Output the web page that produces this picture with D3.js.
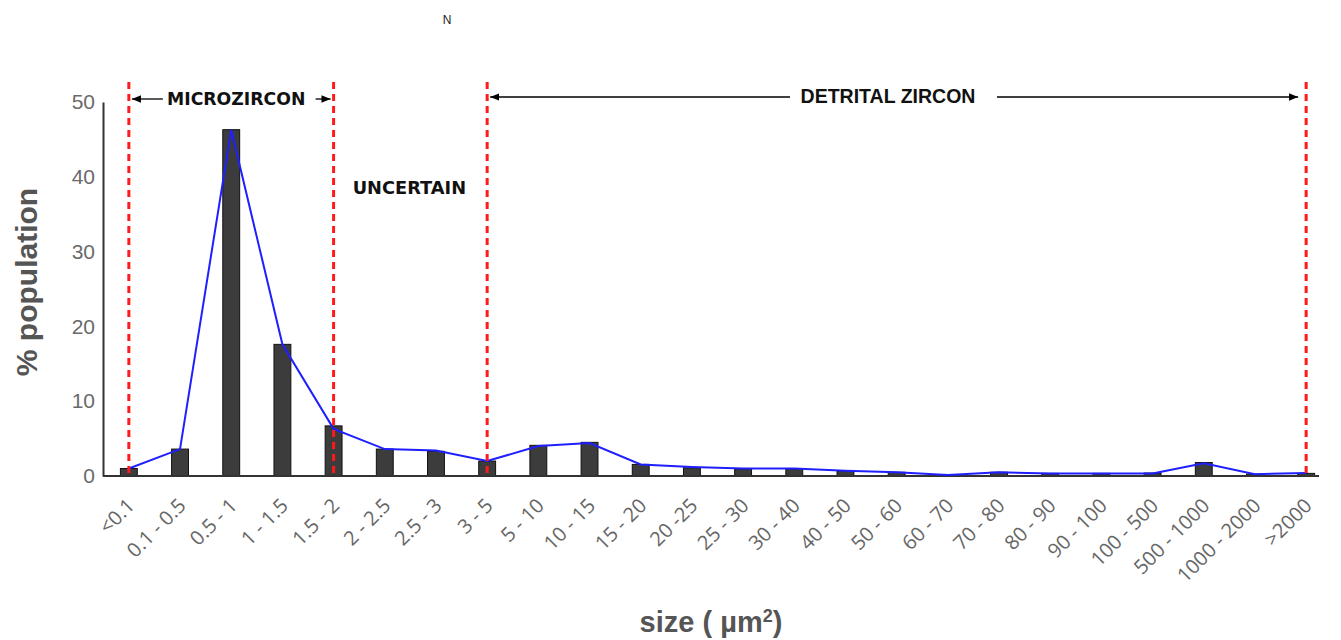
<!DOCTYPE html>
<html>
<head>
<meta charset="utf-8">
<script src="https://cdn.jsdelivr.net/npm/d3@7"></script>
<style>
  body { margin:0; background:#fff; }
  svg { display:block; }
</style>
</head>
<body>
<div id="chart"></div>
<script>
// size classes (µm²)
const categories = ["<0.1","0.1 - 0.5","0.5 - 1","1 - 1.5","1.5 - 2","2 - 2.5","2.5 - 3","3 - 5",
  "5 - 10","10 - 15","15 - 20","20 -25","25 - 30","30 - 40","40 - 50","50 - 60","60 - 70",
  "70 - 80","80 - 90","90 - 100","100 - 500","500 - 1000","1000 - 2000",">2000"]
// % population (bars)
const barValues = [1.0,3.6,46.3,17.6,6.7,3.6,3.3,2.0,4.1,4.5,1.55,1.1,0.9,0.95,0.65,0.5,0.1,
  0.5,0.35,0.35,0.4,1.8,0.25,0.35]
// % population (line)
const lineValues = [1.0,3.6,46.3,17.6,6.3,3.6,3.4,2.0,4.0,4.4,1.55,1.2,1.0,1.0,0.7,0.5,0.15,
  0.5,0.35,0.35,0.35,1.7,0.25,0.4]
const yTicks = [0,10,20,30,40,50]
// boundaries (dashed red lines) placed on these classes
const boundaries = ["<0.1","1.5 - 2","3 - 5",">2000"]

function render(){
  let width = 1341, height = 640
  let svg = d3.select("#chart").append("svg").attr("width",width).attr("height",height)

  let x = d3.scaleBand().domain(categories).range([103,1332]).paddingInner(0.67).paddingOuter(0.34)
  let y = d3.scaleLinear().domain([0,50]).range([476,102])
  let cx = d => x(d) + x.bandwidth()/2

  // arrow markers
  let defs = svg.append("defs")
  defs.append("marker").attr("id","arr").attr("viewBox","0 0 10 10").attr("refX",10).attr("refY",5)
    .attr("markerWidth",7).attr("markerHeight",7).attr("orient","auto-start-reverse")
    .append("path").attr("d","M0,1 L10,5 L0,9 Z").attr("fill","#000")

  // bars
  svg.append("g").selectAll("rect")
    .data(barValues)
    .enter()
    .append("rect")
    .attr("x",(d,i)=>x(categories[i]))
    .attr("y",d=>y(d))
    .attr("width",x.bandwidth())
    .attr("height",d=>y(0)-y(d))
    .attr("fill","#3c3c3c")
    .attr("stroke","#111")
    .attr("stroke-width",1)

  // y axis
  let yAxis = d3.axisLeft(y).tickValues(yTicks).tickSize(0).tickPadding(8)
  let gy = svg.append("g").attr("transform","translate(103,0)").call(yAxis)
  gy.select(".domain").attr("stroke","#333").attr("stroke-width",2)
  gy.selectAll("text").attr("font-family","'Liberation Sans', Arial, sans-serif")
    .attr("font-size",21).attr("fill","#6a6a6a")

  // x axis
  let xAxis = d3.axisBottom(x).tickSize(0).tickPadding(0)
  let gx = svg.append("g").attr("transform",`translate(0,${y(0)})`).call(xAxis)
  gx.select(".domain").remove()
  gx.append("line").attr("x1",103).attr("x2",1319).attr("y1",0).attr("y2",0)
    .attr("stroke","#333").attr("stroke-width",2)
  gx.selectAll(".tick text")
    .attr("font-family","'Open Sans', sans-serif").attr("font-size",20).attr("fill","#666")
    .attr("text-anchor","end").attr("dy",0)
    .attr("transform","translate(7,31) rotate(-45)")

  // line
  let line = d3.line().x((d,i)=>cx(categories[i])).y(d=>y(d))
  svg.append("path").datum(lineValues).attr("d",line)
    .attr("fill","none").attr("stroke","#1f1fff").attr("stroke-width",2)

  // boundaries
  svg.append("g").selectAll("line").data(boundaries).enter().append("line")
    .attr("x1",d=>cx(d)).attr("x2",d=>cx(d))
    .attr("y1",82).attr("y2",y(0))
    .attr("stroke","#ff1a1a").attr("stroke-width",3).attr("stroke-dasharray","7,5")

  // zone annotations
  let ann = svg.append("g").attr("font-family","'DejaVu Sans', Verdana, sans-serif")
    .attr("font-weight","bold").attr("font-size",17.3).attr("fill","#111")
  let arrow = (x1,x2,yy) => ann.append("line").attr("x1",x1).attr("x2",x2).attr("y1",yy).attr("y2",yy)
    .attr("stroke","#000").attr("stroke-width",1.3).attr("marker-end","url(#arr)")

  let m0 = cx(boundaries[0]), m1 = cx(boundaries[1]), d0 = cx(boundaries[2]), d1 = cx(boundaries[3])
  ann.append("text").attr("x",(m0+m1)/2 + 5).attr("y",105).attr("text-anchor","middle").text("MICROZIRCON")
  arrow(m0+34, m0+3, 99)
  arrow(m1-18, m1-3, 99)
  ann.append("text").attr("x",(m1+d0)/2 - 1).attr("y",194).attr("font-size",17.8)
    .attr("text-anchor","middle").text("UNCERTAIN")
  ann.append("text").attr("x",888).attr("y",103).attr("text-anchor","middle")
    .attr("font-family","'Liberation Sans', Arial, sans-serif").attr("font-size",19.5).text("DETRITAL ZIRCON")
  arrow(790, d0+3, 97)
  arrow(997, d1-8, 97)

  // axis titles
  svg.append("text").attr("transform","translate(37,282) rotate(-90)")
    .attr("text-anchor","middle").attr("font-family","'Liberation Sans', Arial, sans-serif")
    .attr("font-weight","bold").attr("font-size",30).attr("fill","#555").text("% population")
  let xt = svg.append("text").attr("x",711).attr("y",632)
    .attr("text-anchor","middle").attr("font-family","'Liberation Sans', Arial, sans-serif")
    .attr("font-weight","bold").attr("font-size",29).attr("fill","#555")
  xt.append("tspan").text("size ( µm")
  xt.append("tspan").attr("font-size",18).attr("dy",-10).text("2")
  xt.append("tspan").attr("dy",10).text(")")

  svg.append("text").attr("x",447).attr("y",24).attr("text-anchor","middle")
    .attr("font-family","'Liberation Sans', Arial, sans-serif").attr("font-size",12).attr("fill","#222").text("N")
}

render()
</script>
</body>
</html>
